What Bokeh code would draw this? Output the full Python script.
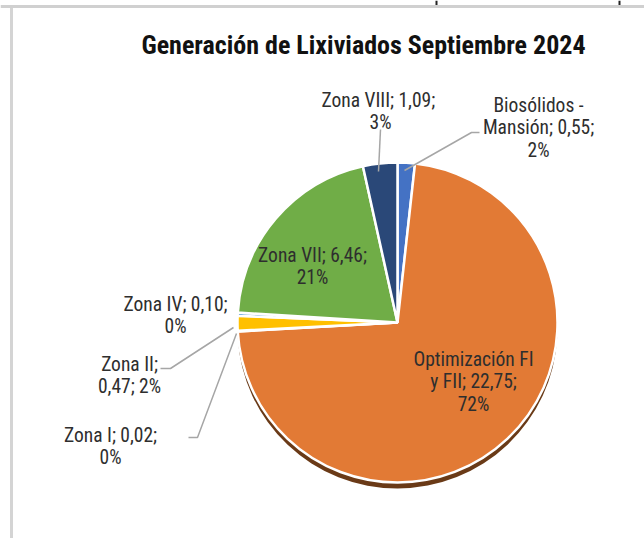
import math
from bokeh.plotting import figure
from bokeh.models import Range1d, Span
from bokeh.core.properties import value
from bokeh.embed import file_html
from bokeh.resources import INLINE

# ---- data ----
categories = ["Biosólidos - Mansión", "Optimización FI y FII", "Zona I", "Zona II",
              "Zona IV", "Zona VII", "Zona VIII"]
values = [0.55, 22.75, 0.02, 0.47, 0.10, 6.46, 1.09]
percents = [2, 72, 0, 2, 0, 21, 3]
title_text = "Generación de Lixiviados Septiembre 2024"

# ---- styles / layout ----
colors = ["#4472C4", "#E27A35", "#A5A5A5", "#FFC000", "#5B9BD5", "#70AD47", "#2A4878"]
line_breaks = [[2, 2, 1], [2, 3, 1], [3, 1], [2, 2], [3, 1], [3, 1], [3, 1]]
label_joiners = [" ", " ", " ", " ", " ", " ", "  "]
label_pos = [(538, 127), (473, 381), (110, 446), (129, 375), (175, 315), (312, 266), (380, 111)]
FONT = "Roboto Condensed, Noto Sans Condensed, Liberation Sans Narrow, Liberation Sans"
FS = 19.5
LH = 22.5

W, H = 644, 538
def Y(py):
    return H - py

cx, cy, r = 397, Y(322), 160

p = figure(width=W, height=H, output_backend="svg", toolbar_location=None,
           x_range=Range1d(0, W), y_range=Range1d(0, H), min_border=0,
           outline_line_color=None, background_fill_color="white")
p.axis.visible = False
p.grid.visible = False
p.title.visible = False

# frame lines
p.segment(x0=[11], y0=[Y(5)], x1=[11], y1=[Y(538)], line_color="#D4D4D4", line_width=3)
p.add_layout(Span(location=Y(6), dimension="width", line_color="#D0D0D0", line_width=3))
p.segment(x0=[436, 619], y0=[Y(0), Y(0)], x1=[436, 619], y1=[Y(5), Y(5)],
          line_color="#222222", line_width=2)

total = sum(values)
ends, starts = [], []
cum = 0.0
for v in values:
    e = math.pi / 2 - cum / total * 2 * math.pi
    cum += v
    s = math.pi / 2 - cum / total * 2 * math.pi
    starts.append(s)
    ends.append(e)

# shadow under the large slice
p.wedge(x=[cx], y=[cy - 6], radius=r, start_angle=[starts[1]], end_angle=[ends[1]],
        fill_color="#6A3A17", line_color=None)

p.wedge(x=[cx] * len(values), y=[cy] * len(values), radius=r,
        start_angle=starts, end_angle=ends, fill_color=colors,
        line_color="white", line_width=2.5)

# leader lines
leaders = [
    ([479, 471, 404], [132, 132, 170]),   # Biosólidos
    ([380, 378], [129, 171]),             # Zona VIII
    ([160, 170, 233], [368, 368, 327]),   # Zona II
    ([188, 197, 236], [437, 437, 333]),   # Zona I
]
for xs, ys in leaders:
    p.line(xs, [Y(v) for v in ys], line_color="#A6A6A6", line_width=1.5)

# labels
def fmt(v):
    return f"{v:.2f}".replace(".", ",")

tx, ty, tt = [], [], []
for i, cat in enumerate(categories):
    tokens = cat.split(" ")
    tokens[-1] = tokens[-1] + ";"
    tokens += [fmt(values[i]) + ";", f"{percents[i]}%"]
    lines, k = [], 0
    for n in line_breaks[i]:
        seg = tokens[k:k + n]
        if len(seg) > 1 and k + n == len(tokens) - 1:
            ln = " ".join(seg[:-1]) + label_joiners[i] + seg[-1]
        else:
            ln = " ".join(seg)
        lines.append(ln)
        k += n
    lx, ly = label_pos[i]
    nl = len(lines)
    for j, ln in enumerate(lines):
        tx.append(lx)
        ty.append(Y(ly + (j - (nl - 1) / 2) * LH))
        tt.append(ln)

p.text(x=tx, y=ty, text=tt, text_font=value(FONT), text_font_size=f"{FS}px",
       text_align="center", text_baseline="middle", text_color="#2E2E2E")

p.text(x=[363], y=[Y(44)], text=[title_text], text_font=value(FONT),
       text_font_size="26px", text_font_style="bold", text_align="center",
       text_baseline="middle", text_color="#111111")

open("out.html", "w").write(file_html(p, INLINE))
